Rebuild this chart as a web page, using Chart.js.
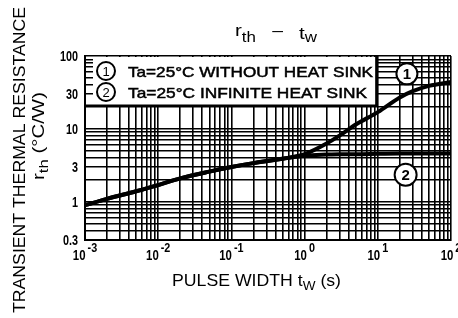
<!DOCTYPE html>
<html>
<head>
<meta charset="utf-8">
<script src="https://cdn.jsdelivr.net/npm/chart.js@4.4.1/dist/chart.umd.min.js"></script>
<style>
  html, body { margin: 0; padding: 0; background: #fff; }
  #wrap { width: 458px; height: 318px; position: relative; }
</style>
</head>
<body>
<div id="wrap"><canvas id="rthChart"></canvas></div>
<script>
// pulse width tw (s)
const pulseWidth = [0.001, 0.002, 0.005, 0.01, 0.02, 0.05, 0.1, 0.2, 0.5, 1, 2, 3, 5, 10, 20, 30, 50, 100];
// (1) Ta=25C without heat sink, rth (C/W)
const rthNoSink = [0.9, 1.1, 1.4, 1.7, 2.1, 2.6, 3.0, 3.4, 3.9, 4.5, 6.3, 8.1, 11.5, 17, 27, 33, 39, 44];
// (2) Ta=25C infinite heat sink
const rthInfSink = [0.9, 1.1, 1.4, 1.7, 2.1, 2.6, 3.0, 3.4, 3.9, 4.3, 4.45, 4.5, 4.5, 4.55, 4.6, 4.6, 4.6, 4.6];

const yTickLabels = [0.3, 1, 3, 10, 30, 100];
const xTickExponents = [-3, -2, -1, 0, 1, 2];
const legendLines = ['Ta=25°C WITHOUT HEAT SINK', 'Ta=25°C INFINITE HEAT SINK'];

const SANS = "'Liberation Sans', Arial, sans-serif";

// 1..9 x 10^n lines for log grid
function decadeGrid(lo, hi) {
  const out = [];
  for (let e = Math.floor(Math.log10(lo)); e <= Math.ceil(Math.log10(hi)); e++) {
    for (let m = 1; m < 10; m++) {
      const v = +(m * Math.pow(10, e)).toPrecision(6);
      if (v >= lo && v <= hi) out.push(v);
    }
  }
  return out;
}

// draw text parts left aligned; w = target width, or sx = fixed squeeze
function drawRich(ctx, parts, x, y, w, sx, heavy) {
  let total = 0;
  parts.forEach(p => { ctx.font = p.font; total += ctx.measureText(p.t).width; });
  if (w) sx = w / total;
  sx = sx || 1;
  ctx.save();
  ctx.translate(x, y);
  ctx.scale(sx, 1);
  let cx = 0;
  parts.forEach(p => {
    ctx.font = p.font;
    ctx.fillText(p.t, cx, p.dy || 0);
    if (heavy) { ctx.lineWidth = heavy; ctx.strokeText(p.t, cx, p.dy || 0); }
    cx += ctx.measureText(p.t).width;
  });
  ctx.restore();
  return total * sx;
}

function textWidth(ctx, parts, sx) {
  let total = 0;
  parts.forEach(p => { ctx.font = p.font; total += ctx.measureText(p.t).width; });
  return total * (sx || 1);
}

function circled(ctx, label, x, y, r, font) {
  ctx.save();
  ctx.beginPath();
  ctx.arc(x, y, r, 0, Math.PI * 2);
  ctx.fillStyle = '#fff';
  ctx.fill();
  ctx.lineWidth = 2;
  ctx.strokeStyle = '#000';
  ctx.stroke();
  ctx.fillStyle = '#000';
  ctx.font = font;
  ctx.textAlign = 'center';
  ctx.textBaseline = 'middle';
  ctx.fillText(label, x, y + 1);
  ctx.restore();
}

const decor = {
  id: 'decor',
  beforeDatasetsDraw(chart) {
    const ctx = chart.ctx;
    const a = chart.chartArea;
    const yS = chart.scales.y;
    const boxR = chart.scales.x.getPixelForValue(9.5);
    const boxB = yS.getPixelForValue(21);
    ctx.save();
    ctx.fillStyle = '#fff';
    ctx.fillRect(a.left + 8, a.top + 1, boxR - a.left - 8, boxB - a.top - 1);
    ctx.strokeStyle = '#000';
    ctx.lineWidth = 2;
    ctx.beginPath();
    ctx.moveTo(a.left, boxB);
    ctx.lineTo(boxR, boxB);
    ctx.lineTo(boxR, a.top);
    ctx.stroke();
    // legend entries
    ctx.fillStyle = '#000';
    ctx.strokeStyle = '#000';
    circled(ctx, '1', a.left + 21, a.top + 15, 9, '13px ' + SANS);
    circled(ctx, '2', a.left + 21, a.top + 36, 9, '13px ' + SANS);
    drawRich(ctx, [{ t: legendLines[0], font: '15px ' + SANS }], a.left + 43, a.top + 21, 245, 0, 0.5);
    drawRich(ctx, [{ t: legendLines[1], font: '15px ' + SANS }], a.left + 43, a.top + 42, 239, 0, 0.5);
    ctx.restore();
  },
  afterDraw(chart) {
    const ctx = chart.ctx;
    const xS = chart.scales.x;
    const yS = chart.scales.y;
    const a = chart.chartArea;
    ctx.save();
    ctx.fillStyle = '#000';
    ctx.textBaseline = 'alphabetic';

    // curve markers
    circled(ctx, '1', xS.getPixelForValue(25), yS.getPixelForValue(57), 10.5, 'bold 15px ' + SANS);
    circled(ctx, '2', xS.getPixelForValue(24), yS.getPixelForValue(2.35), 11, 'bold 15px ' + SANS);

    // y tick labels, condensed bold
    yTickLabels.forEach(v => {
      const py = yS.getPixelForValue(v);
      const parts = [{ t: String(v), font: 'bold 15px ' + SANS }];
      const w = textWidth(ctx, parts, 0.72);
      drawRich(ctx, parts, a.left - 7 - w, py + 5, 0, 0.72);
    });

    // x tick labels 10^n
    xTickExponents.forEach(e => {
      const px = xS.getPixelForValue(Math.pow(10, e));
      const base = [{ t: '10', font: 'bold 15px ' + SANS }];
      const sup = [{ t: String(e), font: 'bold 12px ' + SANS }];
      const wb = textWidth(ctx, base, 0.76);
      const ws = textWidth(ctx, sup, 0.9);
      const left = px - (wb + ws + 2) / 2;
      drawRich(ctx, base, left, a.bottom + 20, 0, 0.76);
      drawRich(ctx, sup, left + wb + 2, a.bottom + 12, 0, 0.9);
    });

    // chart title
    drawRich(ctx, [
      { t: 'r', font: '17px ' + SANS },
      { t: 'th', font: '14px ' + SANS, dy: 6 },
      { t: '   –   ', font: '16px ' + SANS },
      { t: 't', font: '17px ' + SANS, dy: 3 },
      { t: 'w', font: '14px ' + SANS, dy: 6 }
    ], 235, 36, 82);

    // x axis title
    drawRich(ctx, [
      { t: 'PULSE WIDTH t', font: '17px ' + SANS },
      { t: 'W', font: '13px ' + SANS, dy: 4 },
      { t: ' (s)', font: '17px ' + SANS }
    ], 172, 286, 169);

    // y axis title, two rotated lines
    ctx.save();
    ctx.translate(25, 160);
    ctx.rotate(-Math.PI / 2);
    drawRich(ctx, [{ t: 'TRANSIENT THERMAL RESISTANCE', font: '16px ' + SANS }], -153, 0, 306);
    ctx.restore();
    ctx.save();
    ctx.translate(44, 136);
    ctx.rotate(-Math.PI / 2);
    drawRich(ctx, [
      { t: 'r', font: '16px ' + SANS },
      { t: 'th', font: '13px ' + SANS, dy: 4 },
      { t: ' (°C/W)', font: '16px ' + SANS }
    ], -44, 0, 88);
    ctx.restore();

    ctx.restore();
  }
};

const gridOpts = { color: '#000', lineWidth: 1.6, drawTicks: false };
const borderOpts = { display: true, color: '#000', width: 2 };

new Chart(document.getElementById('rthChart'), {
  type: 'line',
  data: {
    datasets: [
      {
        label: 'without heat sink',
        data: pulseWidth.map((x, i) => ({ x: x, y: rthNoSink[i] }))
      },
      {
        label: 'infinite heat sink',
        data: pulseWidth.map((x, i) => ({ x: x, y: rthInfSink[i] }))
      }
    ]
  },
  options: {
    responsive: true,
    maintainAspectRatio: false,
    animation: false,
    layout: { padding: { left: 0, right: 7, top: 56, bottom: 0 } },
    elements: {
      point: { radius: 0 },
      line: { borderColor: '#000', borderWidth: 4, cubicInterpolationMode: 'monotone', fill: false }
    },
    plugins: {
      legend: { display: false },
      tooltip: { enabled: false }
    },
    scales: {
      x: {
        type: 'logarithmic',
        min: 0.001,
        max: 100,
        afterBuildTicks: s => { s.ticks = decadeGrid(0.001, 100).map(v => ({ value: v })); },
        afterFit: s => { s.height = 78; },
        ticks: { display: false },
        grid: gridOpts,
        border: borderOpts
      },
      y: {
        type: 'logarithmic',
        min: 0.3,
        max: 100,
        afterBuildTicks: s => { s.ticks = decadeGrid(0.3, 100).map(v => ({ value: v })); },
        afterFit: s => { s.width = 85; },
        ticks: { display: false },
        grid: gridOpts,
        border: borderOpts
      }
    }
  },
  plugins: [decor]
});
</script>
</body>
</html>
